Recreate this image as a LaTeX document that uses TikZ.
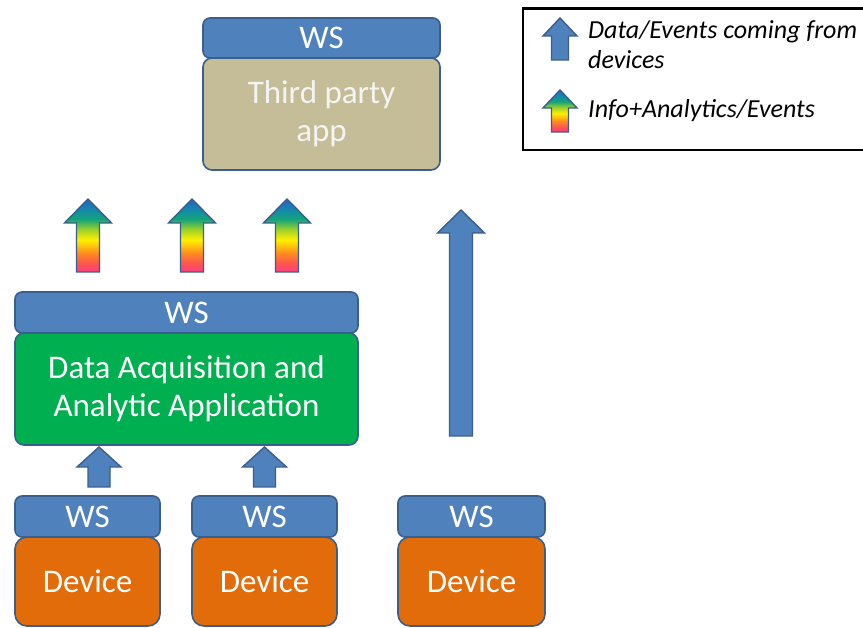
\documentclass[tikz,border=0pt]{standalone}
\usepackage{fontspec}
\setmainfont{Carlito}
\usetikzlibrary{calc}
\definecolor{wsblue}{HTML}{4F81BD}
\definecolor{wsborder}{HTML}{3A5F8C}
\definecolor{tan}{HTML}{C4BD97}
\definecolor{greenbox}{HTML}{00B050}
\definecolor{devorange}{HTML}{E36C0A}
\definecolor{offwhite}{HTML}{F4F4F4}
\pgfdeclareverticalshading{rainbow}{100bp}{%
  color(0bp)=(rgb,255:red,255;green,60;blue,130);
  color(25bp)=(rgb,255:red,255;green,60;blue,130);
  color(31bp)=(rgb,255:red,255;green,85;blue,80);
  color(38bp)=(rgb,255:red,255;green,140;blue,30);
  color(47bp)=(rgb,255:red,255;green,240;blue,0);
  color(54bp)=(rgb,255:red,160;green,210;blue,40);
  color(61bp)=(rgb,255:red,20;green,165;blue,120);
  color(67bp)=(rgb,255:red,20;green,140;blue,165);
  color(75bp)=(rgb,255:red,35;green,100;blue,205);
  color(100bp)=(rgb,255:red,35;green,100;blue,205)}
\tikzset{
  box/.style={draw=wsborder, line width=1.6pt, rounded corners=9pt, inner sep=0pt, text=white, font=\fontsize{33}{38}\selectfont, align=center},
  wsbox/.style={box, fill=wsblue, rounded corners=7pt},
  devbox/.style={box, fill=devorange, rounded corners=12pt},
  bluearrow/.style={fill=wsblue, draw=wsborder, line width=1.4pt, line join=miter},
  rainarrow/.style={shading=rainbow, draw=wsborder, line width=1.4pt, line join=miter},
  legtext/.style={font=\fontsize{26}{30}\selectfont\itshape, anchor=west, align=left, inner sep=0pt}
}
% #1 style, #2 x centre, #3 y tip, #4 y bottom, #5 head half width, #6 shaft half width, #7 head length
\newcommand{\blockarrow}[7]{%
  \path[#1] ({#2-#6},#4) -- ({#2-#6},{#3+#7}) -- ({#2-#5},{#3+#7}) -- (#2,#3)
    -- ({#2+#5},{#3+#7}) -- ({#2+#6},{#3+#7}) -- ({#2+#6},#4) -- cycle;}
\begin{document}
\begin{tikzpicture}[x=1pt,y=-1pt]
\useasboundingbox (0,0) rectangle (863,628);
\fill[white] (0,0) rectangle (863,628);

% top stack
\node[wsbox, minimum width=237pt, minimum height=40pt] (wstop) at (321.5,38) {WS};
\node[box, fill=tan, text=offwhite, minimum width=237pt, minimum height=112pt] (third) at (321.5,114) {Third party\\app};

% middle stack
\node[wsbox, minimum width=343pt, minimum height=41pt] (wsmid) at (186.5,312.5) {WS};
\node[box, fill=greenbox, minimum width=343pt, minimum height=112pt] (daq) at (186.5,389) {Data Acquisition and\\Analytic Application};

% devices
\node[wsbox, minimum width=145pt, minimum height=41pt] (ws1) at (87.5,516.5) {WS};
\node[devbox, minimum width=145pt, minimum height=89pt] (dev1) at (87.5,581.5) {Device};
\node[wsbox, minimum width=145pt, minimum height=41pt] (ws2) at (264.5,516.5) {WS};
\node[devbox, minimum width=145pt, minimum height=89pt] (dev2) at (264.5,581.5) {Device};
\node[wsbox, minimum width=147pt, minimum height=41pt] (ws3) at (471.5,516.5) {WS};
\node[devbox, minimum width=147pt, minimum height=89pt] (dev3) at (471.5,581.5) {Device};

% device -> application arrows
\blockarrow{bluearrow}{99}{447}{487}{22}{11}{20}
\blockarrow{bluearrow}{264.5}{447}{487}{22}{11}{20}
% direct device -> third party arrow
\blockarrow{bluearrow}{461}{210}{436}{23.5}{11.5}{23}

% info arrows
\blockarrow{rainarrow}{88}{199}{272}{23.5}{11.5}{24}
\blockarrow{rainarrow}{192}{199}{272}{23.5}{11.5}{24}
\blockarrow{rainarrow}{287}{199}{272}{23.5}{11.5}{24}

% legend
\draw[black, line width=2.2pt] (523,8.5) rectangle (870,150);
\blockarrow{bluearrow}{560}{18}{60}{17}{8.5}{18}
\blockarrow{rainarrow}{560}{90}{132}{17}{8.5}{18}
\node[legtext] (l1) at (588,45) {Data/Events coming from\\devices};
\node[legtext] (l2) at (588,111) {Info+Analytics/Events};
\end{tikzpicture}
\end{document}
